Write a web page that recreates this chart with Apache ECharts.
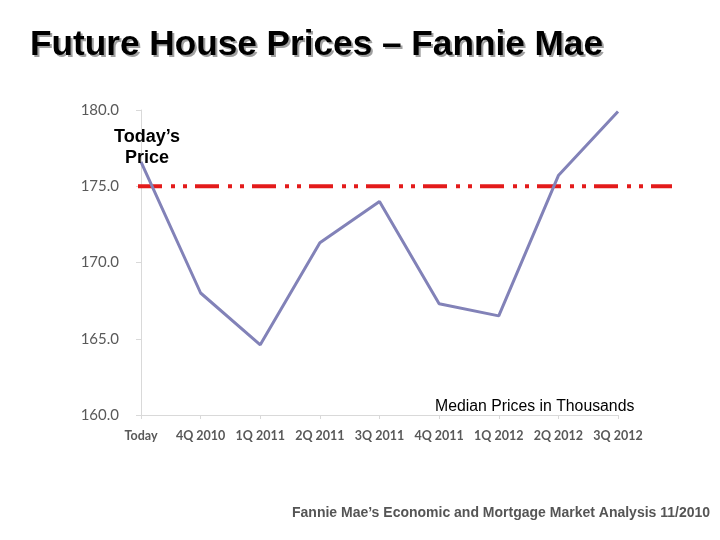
<!DOCTYPE html>
<html>
<head>
<meta charset="utf-8">
<script src="https://cdn.jsdelivr.net/npm/echarts@6/dist/echarts.min.js"></script>
<style>html,body{margin:0;padding:0;background:#fff;}#c{width:720px;height:540px;}</style>
</head>
<body>
<div id="c"></div>
<script>
var categories = ['Today', '4Q 2010', '1Q 2011', '2Q 2011', '3Q 2011', '4Q 2011', '1Q 2012', '2Q 2012', '3Q 2012'];
var prices = [176.6, 168.0, 164.6, 171.3, 174.0, 167.3, 166.5, 175.7, 179.9];
var todayPrice = 175.0;
var yTicks = { min: 160, max: 180, interval: 5 };
var titleText = 'Future House Prices – Fannie Mae';

var chart = echarts.init(document.getElementById('c'));
chart.setOption({
  animation: false,
  backgroundColor: '#ffffff',
  grid: [
    { left: 141, right: 102, top: 110, bottom: 125, containLabel: false },
    { left: 138, right: 48, top: 110, bottom: 125, containLabel: false }
  ],
  xAxis: [
    {
      type: 'category', data: categories, boundaryGap: false, gridIndex: 0,
      axisLine: { lineStyle: { color: '#d9d9d9', width: 1 } },
      axisTick: { show: true, alignWithLabel: true, interval: 0, length: 4, lineStyle: { color: '#d9d9d9' } },
      axisLabel: { interval: 0, margin: 14, color: '#595959', fontFamily: 'Lato, Carlito, sans-serif', fontWeight: 'bold', fontSize: 12.5 },
      splitLine: { show: false }
    },
    { type: 'value', gridIndex: 1, min: 0, max: 1, show: false }
  ],
  yAxis: [
    {
      type: 'value', gridIndex: 0, min: yTicks.min, max: yTicks.max, interval: yTicks.interval,
      axisLine: { show: true, lineStyle: { color: '#d9d9d9', width: 1 } },
      axisTick: { show: true, length: 5, lineStyle: { color: '#d9d9d9' } },
      axisLabel: { margin: 22, color: '#595959', fontFamily: 'Lato, Carlito, sans-serif', fontSize: 15,
        formatter: function (v) { return v.toFixed(1); } },
      splitLine: { show: false }
    },
    { type: 'value', gridIndex: 1, min: yTicks.min, max: yTicks.max, show: false }
  ],
  series: [
    {
      type: 'line', xAxisIndex: 1, yAxisIndex: 1, data: [[0, todayPrice], [1, todayPrice]],
      symbol: 'none', z: 1,
      lineStyle: { color: '#e31b1b', width: 4, type: [24, 9, 4, 8, 4, 8], cap: 'butt' }
    },
    {
      type: 'line', xAxisIndex: 0, yAxisIndex: 0, data: prices, symbol: 'none', z: 2,
      lineStyle: { color: '#8282b8', width: 3 }
    }
  ],
  graphic: [
    { type: 'text', x: 32, y: 30, scaleX: 1.02, style: { text: titleText,
      font: 'bold 34.5px "Liberation Sans", Arial, sans-serif', fill: '#a0a0a0' }, z: 9 },
    { type: 'text', x: 30, y: 28, scaleX: 1.02, style: { text: titleText,
      font: 'bold 34.5px "Liberation Sans", Arial, sans-serif', fill: '#000' }, z: 10 },
    { type: 'text', x: 147, y: 127, style: { text: 'Today’s\nPrice', align: 'center', verticalAlign: 'top',
      font: 'bold 18px "Liberation Sans", Arial, sans-serif', lineHeight: 21, fill: '#000' }, z: 10 },
    { type: 'text', x: 435, y: 399, style: { text: 'Median Prices in Thousands',
      font: '15.8px "Liberation Sans", Arial, sans-serif', fill: '#000' }, z: 10 },
    { type: 'text', x: 292, y: 506, style: { text: 'Fannie Mae’s Economic and Mortgage Market Analysis 11/2010',
      font: 'bold 14px "Liberation Sans", Arial, sans-serif', fill: '#555555' }, z: 10 }
  ]
});
</script>
</body>
</html>
